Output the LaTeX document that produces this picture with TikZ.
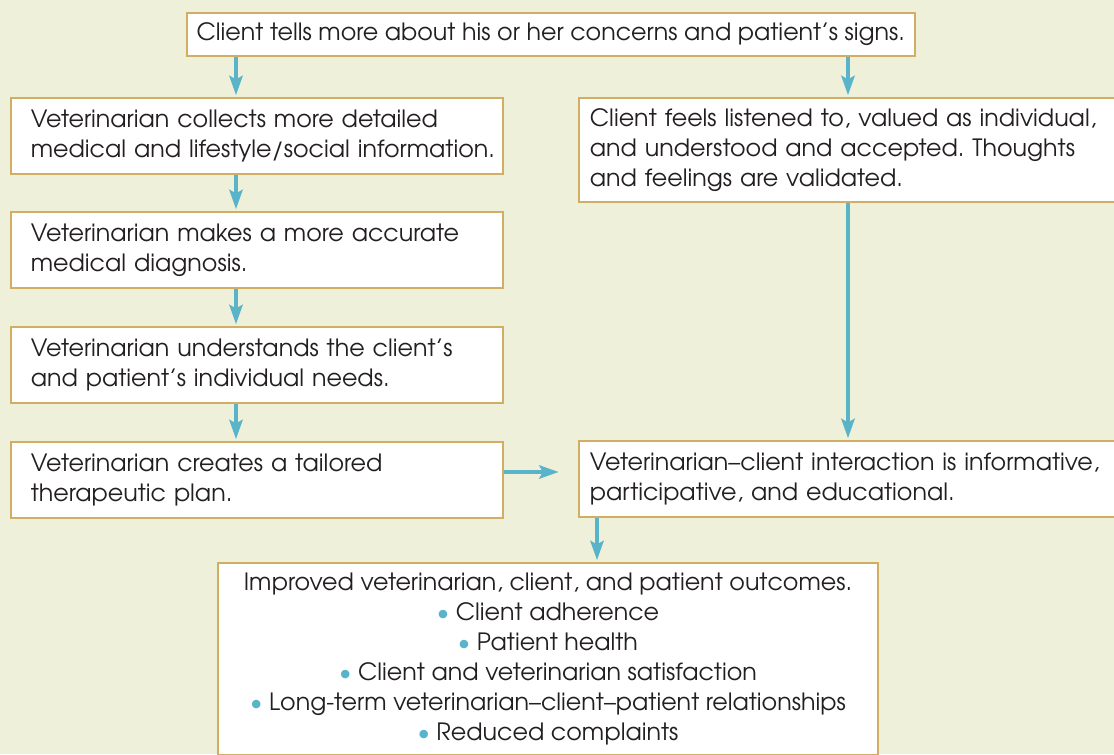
\documentclass[tikz,border=0pt]{standalone}
\usepackage{fontspec}
\setmainfont{texgyreadventor}[Extension=.otf, UprightFont=*-regular, BoldFont=*-bold]
\usepackage{xcolor}
\usepackage{tikz}
\usetikzlibrary{arrows.meta}

\definecolor{bgcream}{HTML}{EFF0D9}
\definecolor{boxgold}{HTML}{D2AE62}
\definecolor{flowblue}{HTML}{5AB4C9}
\definecolor{inkgrey}{HTML}{231F20}

\newcommand{\dotitem}{\textcolor{flowblue}{\textbullet}\ }
\frenchspacing

\begin{document}
\begin{tikzpicture}[x=0.02cm,y=-0.02cm,
    every node/.style={font=\fontsize{13.55}{17.1}\selectfont, text=inkgrey},
    stepbox/.style={draw=boxgold, line width=1pt, fill=white, inner ysep=0pt},
    leftbox/.style={stepbox, anchor=north west, align=left, text width=9.04cm,
        inner xsep=0.4cm, minimum height=1.52cm},
    rightbox/.style={stepbox, anchor=north west, align=left, text width=10.6cm,
        inner xsep=0.22cm},
    flow/.style={draw=flowblue, line width=2.4pt, shorten >=1pt,
        -{Stealth[length=11pt, width=7.5pt, inset=2pt]}}]

% Background and page frame
\clip (0,0) rectangle (1114,754);
\fill[bgcream] (0,0) rectangle (1114,754);

% Columns of the arrows
\coordinate (lcol) at (236,0);
\coordinate (rcol) at (848,0);
\coordinate (ocol) at (597,0);
\coordinate (hrow) at (0,472);

% Draw boxes
\node[stepbox, anchor=north west, align=center, minimum width=14.56cm,
    minimum height=0.86cm] (tells) at (186,12)
    {Client tells more about his or her concerns and patient’s signs.};

\node[leftbox] (collect) at (10,97)
    {Veterinarian collects more detailed\\\mbox{medical and lifestyle/social information.}};
\node[leftbox] (diagnose) at (10,211)
    {Veterinarian makes a more accurate\\medical diagnosis.};
\node[leftbox] (needs) at (10,326)
    {Veterinarian understands the client’s\\and patient’s individual needs.};
\node[leftbox] (plan) at (10,441)
    {Veterinarian creates a tailored\\therapeutic plan.};

\node[rightbox, minimum height=2.08cm] (listened) at (578,97)
    {Client feels listened to, valued as individual,\\and understood and accepted. Thoughts\\and feelings are validated.};
\node[rightbox, minimum height=1.52cm] (interact) at (578,440)
    {Veterinarian–client interaction is informative,\\participative, and educational.};

\node[stepbox, anchor=north, align=center, minimum width=13.2cm,
    inner ysep=0.2cm] (outcome) at (548,562)
    {Improved veterinarian, client, and patient outcomes.\\
     \dotitem Client adherence\\
     \dotitem Patient health\\
     \dotitem Client and veterinarian satisfaction\\
     \dotitem Long-term veterinarian–client–patient relationships\\
     \dotitem Reduced complaints};

% Draw arrows
\draw[flow] (tells.south -| lcol) -- (collect.north -| lcol);
\draw[flow] (tells.south -| rcol) -- (listened.north -| rcol);
\draw[flow] (collect.south -| lcol) -- (diagnose.north -| lcol);
\draw[flow] (diagnose.south -| lcol) -- (needs.north -| lcol);
\draw[flow] (needs.south -| lcol) -- (plan.north -| lcol);
\draw[flow] (listened.south -| rcol) -- (interact.north -| rcol);
\draw[flow, shorten >=11pt] (plan.east |- hrow) -- (interact.west |- hrow);
\draw[flow] (interact.south -| ocol) -- (outcome.north -| ocol);
\end{tikzpicture}
\end{document}
